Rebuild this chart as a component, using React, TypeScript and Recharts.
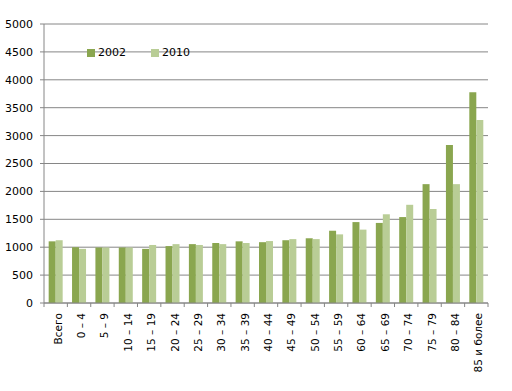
import React from 'react';
import { BarChart, Bar, XAxis, YAxis, CartesianGrid, Legend } from 'recharts';

const categories = [
  'Всего', '0 – 4', '5 – 9', '10 – 14', '15 – 19', '20 – 24', '25 – 29', '30 – 34', '35 – 39',
  '40 – 44', '45 – 49', '50 – 54', '55 – 59', '60 – 64', '65 – 69', '70 – 74', '75 – 79', '80 – 84',
  '85 и более',
];
const values2002 = [1105, 1000, 995, 995, 970, 1020, 1055, 1075, 1105, 1090, 1125, 1160, 1295, 1450, 1435, 1540, 2130, 2830, 3775];
const values2010 = [1125, 970, 995, 995, 1040, 1055, 1040, 1055, 1075, 1110, 1145, 1145, 1230, 1315, 1590, 1760, 1685, 2130, 3280];
const yTicks = [0, 500, 1000, 1500, 2000, 2500, 3000, 3500, 4000, 4500, 5000];

const COLOR_2002 = '#8aa64f';
const COLOR_2010 = '#b9cd96';
const GRID = '#868686';
const FONT = '"DejaVu Sans", Verdana, sans-serif';

const chartData = categories.map((name, i) => ({
  name,
  y2002: values2002[i],
  y2010: values2010[i],
}));

const PLOT_W = 444;

// ticks sit between categories, like Excel draws them
function XTick(props: any) {
  const { x, y, payload, index } = props;
  const band = PLOT_W / categories.length;
  const isLast = index === categories.length - 1;
  return (
    <g>
      <line x1={x - band / 2} x2={x - band / 2} y1={y} y2={y + 4} stroke={GRID} />
      {isLast && <line x1={x + band / 2} x2={x + band / 2} y1={y} y2={y + 4} stroke={GRID} />}
      <text
        x={0}
        y={0}
        transform={`translate(${x + 6},${y + 10}) rotate(-90)`}
        textAnchor="end"
        fontSize={10.5}
        fontFamily={FONT}
        fill="#000"
      >
        {payload.value}
      </text>
    </g>
  );
}

function LegendBox() {
  const items = [
    { label: '2002', color: COLOR_2002 },
    { label: '2010', color: COLOR_2010 },
  ];
  return (
    <div style={{ display: 'flex', fontFamily: FONT, fontSize: 11, color: '#000' }}>
      {items.map((it) => (
        <div key={it.label} style={{ display: 'flex', alignItems: 'center', width: 64 }}>
          <span style={{ display: 'inline-block', width: 8, height: 8, background: it.color, marginRight: 3 }} />
          <span>{it.label}</span>
        </div>
      ))}
    </div>
  );
}

export default function App() {
  return (
    <div style={{ position: 'absolute', left: 0, top: 0, width: 512, height: 391, background: '#fff' }}>
      <BarChart
        width={512}
        height={391}
        data={chartData}
        margin={{ top: 11, right: 24, bottom: 0, left: 0 }}
        barCategoryGap="20%"
        barGap={0}
      >
        <CartesianGrid vertical={false} stroke={GRID} strokeDasharray="" />
        <XAxis
          dataKey="name"
          interval={0}
          axisLine={{ stroke: GRID }}
          tickLine={false}
          tickSize={0}
          tickMargin={0}
          tick={<XTick />}
          height={88}
        />
        <YAxis
          width={44}
          domain={[0, 5000]}
          ticks={yTicks}
          interval={0}
          axisLine={{ stroke: GRID }}
          tickLine={{ stroke: GRID }}
          tickSize={4}
          tickMargin={7}
          tick={{ fill: '#000', fontSize: 11, fontFamily: FONT }}
        />
        <Legend
          content={<LegendBox />}
          layout="horizontal"
          verticalAlign="top"
          align="left"
          wrapperStyle={{ position: 'absolute', top: 46, left: 87, width: 140 }}
        />
        <Bar dataKey="y2002" name="2002" fill={COLOR_2002} isAnimationActive={false} />
        <Bar dataKey="y2010" name="2010" fill={COLOR_2010} isAnimationActive={false} />
      </BarChart>
    </div>
  );
}
